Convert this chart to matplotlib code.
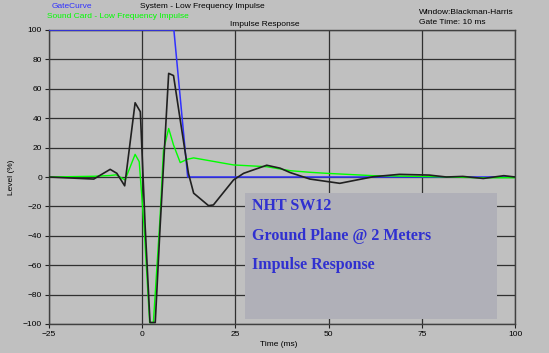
import matplotlib.pyplot as plt
from matplotlib.patches import Rectangle

# gate curve (blue)
gate_t = [-25, 8.5, 12.2, 100]
gate_v = [100, 100, 0, 0]

# system - low frequency impulse (black)
sys_t = [-25, -13, -8.6, -6.8, -4.7, -1.9, -0.5, 0.8, 2.1, 3.5, 4.8, 7.1, 8.4, 10.2,
         12.4, 13.8, 17.8, 19.1, 24.5, 27.2, 33.4, 37, 39.7, 45, 53, 62, 69, 77,
         81.6, 86, 91.5, 97, 100]
sys_v = [0, -1.4, 5.2, 2.5, -6, 50.5, 44.4, -34, -99, -99, -34, 70.5, 69, 38.8,
         2.5, -11, -19.5, -19, -2, 2.5, 8, 6, 3, -1.4, -4.3, 0.2, 1.8, 1.3,
         0, 0.4, -1, 0.9, 0]

# sound card - low frequency impulse (green)
snd_t = [-25, -13, -8.6, -7, -4.6, -1.9, -0.8, 0.5, 2, 3, 4.8, 5.7, 7.1, 8.4, 10.2,
         12, 13.8, 24.5, 33.4, 39.7, 45, 49.5, 62, 79, 90, 98, 100]
snd_v = [0, 0.5, 1, 1.5, -2, 15.4, 10.4, -34, -99, -99, -27, 18, 33, 21.8, 9.8,
         12, 13, 8.2, 7, 4.3, 3.2, 2.5, 0.9, 0.2, -0.5, -0.5, -0.5]

xticks = [-25, 0, 25, 50, 75, 100]
yticks = list(range(-100, 101, 20))

bg = "#c0c0c0"
fig = plt.figure(figsize=(5.49, 3.53), dpi=100, facecolor=bg)
ax = fig.add_axes([49 / 549, 29 / 353, 466 / 549, 294 / 353], facecolor=bg)

ax.plot(gate_t, gate_v, color="#3030ff", lw=1.1, zorder=3)
ax.plot(snd_t, snd_v, color="#00ff00", lw=1, zorder=4)
ax.plot(sys_t, sys_v, color="#202020", lw=1.2, zorder=5)

ax.set_xlim(-25, 100)
ax.set_ylim(-100, 100)
ax.set_xticks(xticks)
ax.set_yticks(yticks)
ax.grid(True, color="#303030", lw=0.9)
for s in ax.spines.values():
    s.set_color("#404040")
    s.set_linewidth(1)
ax.tick_params(labelsize=6, length=3, width=0.8, color="#202020", pad=2)
for lab in ax.get_xticklabels() + ax.get_yticklabels():
    lab.set_fontfamily("Liberation Sans")
ax.set_ylabel("Level (%)", fontsize=6, family="Liberation Sans", labelpad=6)
fig.text(279 / 549, 1 - 345 / 353, "Time (ms)", fontsize=6, family="Liberation Sans",
         ha="center", va="center")

# annotation box
ax.add_patch(Rectangle((0.421, 0.017), 0.54, 0.43, transform=ax.transAxes,
                       facecolor="#b0b0b8", edgecolor="none", zorder=6))
for i, line in enumerate(["NHT SW12", "Ground Plane @ 2 Meters", "Impulse Response"]):
    ax.text(0.435, 0.40 - i * 0.1, line, transform=ax.transAxes, color="#3030d0",
            fontsize=11.5, fontweight="bold", family="Liberation Serif",
            va="center", zorder=7)

# header labels
fs = 6
fig.text(52 / 549, 1 - 6 / 353, "GateCurve", color="#3030ff", fontsize=fs,
         family="Liberation Sans", va="center")
fig.text(140 / 549, 1 - 6 / 353, "System - Low Frequency Impulse", color="black",
         fontsize=fs, family="Liberation Sans", va="center")
fig.text(47 / 549, 1 - 16 / 353, "Sound Card - Low Frequency Impulse", color="#00ff00",
         fontsize=fs, family="Liberation Sans", va="center")
fig.text(230 / 549, 1 - 24 / 353, "Impulse Response", color="black", fontsize=fs,
         family="Liberation Sans", va="center")
fig.text(419 / 549, 1 - 13 / 353, "Window:Blackman-Harris", color="black", fontsize=fs,
         family="Liberation Sans", va="center")
fig.text(419 / 549, 1 - 22 / 353, "Gate Time: 10 ms", color="black", fontsize=fs,
         family="Liberation Sans", va="center")

fig.savefig("out.png", dpi=100, facecolor=bg)
